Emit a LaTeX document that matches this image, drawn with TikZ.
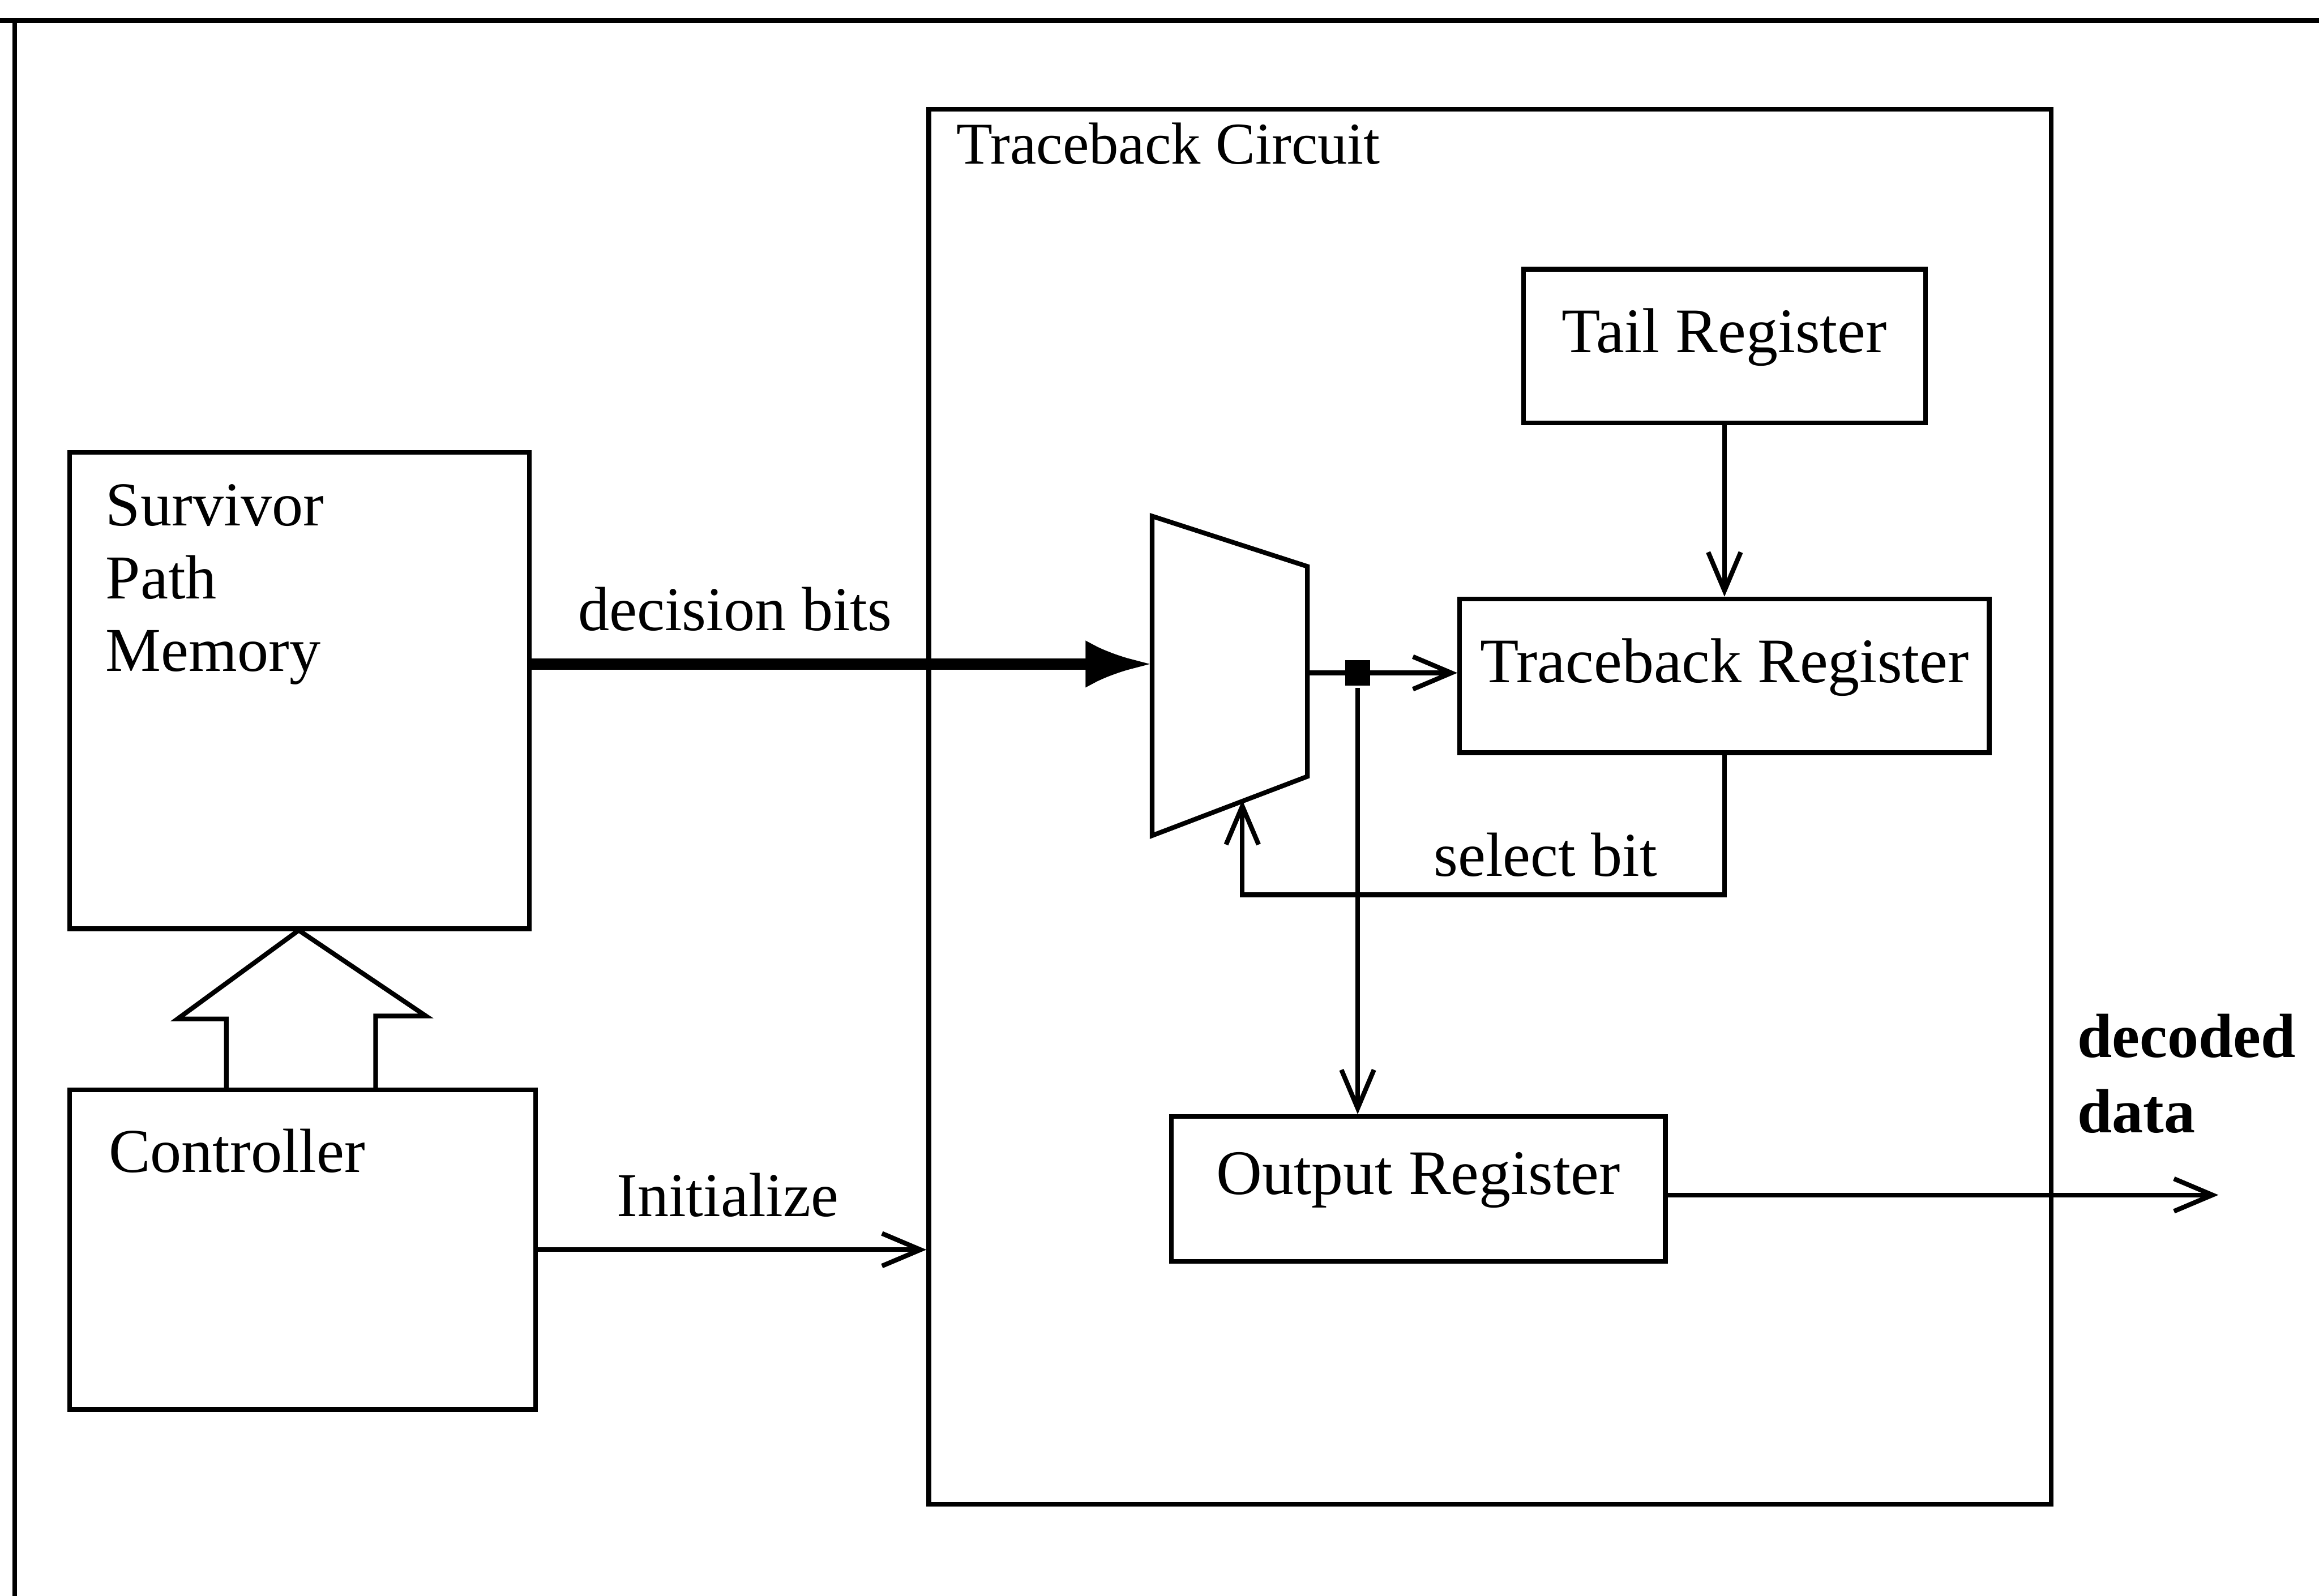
\documentclass[tikz,border=0pt]{standalone}
\usepackage{fontspec}
\setmainfont{Liberation Serif}
\usetikzlibrary{arrows.meta}
\tikzset{
  blk/.style={draw, line width=0.9pt, inner sep=0pt},
  regbox/.style={blk, text depth=6pt, font=\fontsize{12.2}{14}\selectfont},
  wire/.style={line width=0.9pt, -{Straight Barb[length=2.6mm,width=2.2mm,line width=0.9pt]}},
  lbl/.style={inner sep=0pt, font=\fontsize{12}{14}\selectfont},
}

\begin{document}
\begin{tikzpicture}[x=0.1mm, y=-0.1mm, line width=0.9pt]
    \useasboundingbox (0,0) rectangle (1568,1079);
    \draw (0,14) -- (1568,14);
    \draw (10,14) -- (10,1079);

    \node[blk, minimum width=31.1mm, minimum height=32.2mm] (surv) at (202.5,467) {};
    \node[lbl, anchor=north west, align=left] (survtxt) at (70,326) {Survivor\\Path\\Memory};
    \node[blk, minimum width=31.5mm, minimum height=21.6mm] (ctrl) at (204.5,845) {};
    \node[lbl, anchor=west] (ctrltxt) at (72,778) {Controller};
    \draw (153,737) -- (153,689) -- (120,689) -- (202,629) -- (288,687) -- (254,687) -- (254,737);

    \node[blk, minimum width=75.9mm, minimum height=94.3mm] (circ) at (1007.5,545.5) {};
    \node[lbl, anchor=west, font=\fontsize{11.4}{14}\selectfont] (circtxt) at (645,97) {Traceback Circuit};
    \node[regbox, minimum width=27.2mm, minimum height=10.4mm] (tailreg) at (1166,234) {Tail Register};
    \node[regbox, minimum width=35.8mm, minimum height=10.4mm] (tbreg) at (1166,457) {Traceback Register};
    \node[regbox, minimum width=33.4mm, minimum height=9.8mm] (outreg) at (959,804) {Output Register};

    \draw (779,349) -- (884,383) -- (884,525) -- (779,565) -- cycle;
    \coordinate (muxin) at (779,449);
    \coordinate (muxout) at (884,455);
    \coordinate (muxsel) at (840,541);
    \coordinate (selturn) at (840,605);
    \coordinate (dout) at (1500,808);

    \draw[line width=2.2pt, -{Latex[length=4.5mm,width=3.2mm]}] (muxin -| surv.east) -- (muxin);
    \node[lbl] (dectxt) at (497,412) {decision bits};
    \draw[wire] (muxout) -- (muxout -| tbreg.west);
    \node[fill, minimum size=1.7mm, inner sep=0pt] (jn) at (918,455) {};
    \draw[wire] (jn) -- (jn |- outreg.north);
    \draw[wire] (tailreg.south) -- (tbreg.north);
    \draw[wire] (tbreg.south) |- (selturn) -- (muxsel);
    \node[lbl] (seltxt) at (1045,578) {select bit};
    \draw[wire] (ctrl.east) -- (ctrl.east -| circ.west);
    \node[lbl] (inittxt) at (492,808) {Initialize};
    \draw[wire] (outreg.east |- dout) -- (dout);
    \node[lbl, anchor=west, align=left, font=\fontsize{12}{14.5}\selectfont\bfseries] (outtxt) at (1403,726) {decoded\\data};
\end{tikzpicture}
\end{document}
